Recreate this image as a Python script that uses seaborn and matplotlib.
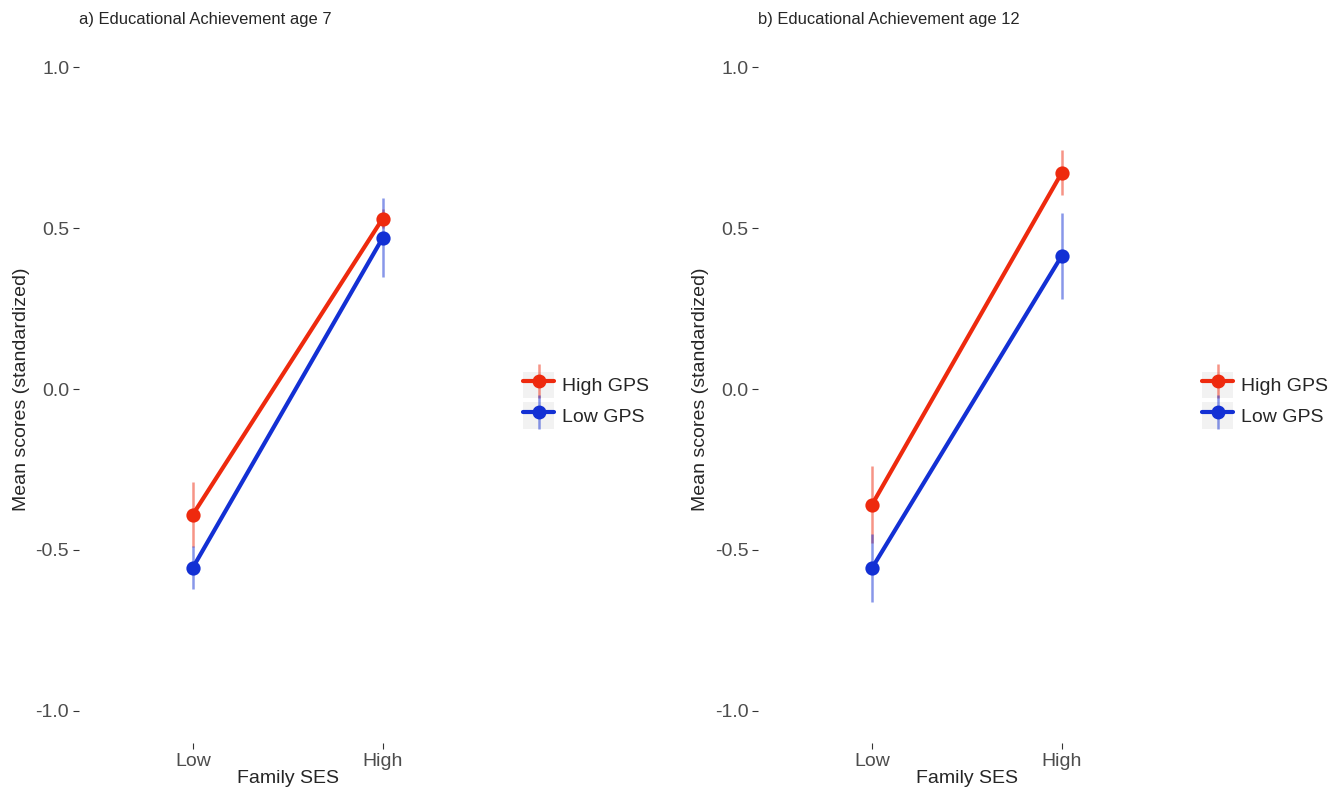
import matplotlib.pyplot as plt
import seaborn as sns
import pandas as pd
from matplotlib.lines import Line2D
from matplotlib.patches import Patch
from matplotlib.legend_handler import HandlerTuple

sns.set_style("white")
plt.rcParams["font.family"] = ["Liberation Sans", "DejaVu Sans"]

ses = ["Low", "High"]
groups = ["High GPS", "Low GPS"]
colors = {"High GPS": "#ee2a0e", "Low GPS": "#1330d4"}

# age 7
age7_high = [-0.39, 0.53]
age7_high_err = [0.10, 0.03]
age7_low = [-0.555, 0.47]
age7_low_err = [0.068, 0.123]

# age 12
age12_high = [-0.36, 0.672]
age12_high_err = [0.12, 0.07]
age12_low = [-0.557, 0.414]
age12_low_err = [0.106, 0.134]

titles = ["a) Educational Achievement age 7", "b) Educational Achievement age 12"]
panels = [
    (age7_high, age7_high_err, age7_low, age7_low_err),
    (age12_high, age12_high_err, age12_low, age12_low_err),
]

fig = plt.figure(figsize=(13.43, 7.98), dpi=100)
lefts = [0.0588, 0.5644]

for left, title, (hi, hi_e, lo, lo_e) in zip(lefts, titles, panels):
    ax = fig.add_axes([left, 0.069, 0.311, 0.887])
    df = pd.DataFrame({
        "ses": ses * 2,
        "group": ["High GPS"] * 2 + ["Low GPS"] * 2,
        "mean": hi + lo,
        "err": hi_e + lo_e,
    })
    for g in groups:
        sub = df[df.group == g]
        ax.vlines(range(len(ses)), sub["mean"] - sub["err"], sub["mean"] + sub["err"],
                  color=colors[g], alpha=0.5, lw=1.8, zorder=1)
    sns.pointplot(data=df, x="ses", y="mean", hue="group", order=ses, hue_order=groups,
                  palette=colors, errorbar=None, markers="o",
                  linewidth=3, markersize=8, ax=ax, legend=False)
    ax.set_xlim(-0.6, 1.6)
    ax.set_ylim(-1.1, 1.1)
    ax.set_yticks([-1.0, -0.5, 0.0, 0.5, 1.0])
    ax.set_yticklabels(["-1.0", "-0.5", "0.0", "0.5", "1.0"])
    ax.tick_params(axis="both", length=4, color="#333333", labelcolor="#4d4d4d",
                   labelsize=14, width=0.8, direction="out", left=True, bottom=True, pad=3)
    for s in ax.spines.values():
        s.set_visible(False)
    ax.set_xlabel("Family SES", fontsize=14, labelpad=0)
    ax.set_ylabel("Mean scores (standardized)", fontsize=14, labelpad=4)
    ax.set_title(title, loc="left", fontsize=11.9, pad=8)

    handles = []
    for g in groups:
        handles.append((Patch(facecolor="#f2f2f2", edgecolor="none"),
                        Line2D([], [], color=colors[g], lw=3, marker="o", markersize=9),
                        Line2D([], [], color=colors[g], marker="|", markersize=24,
                               markeredgewidth=1.8, alpha=0.5, linestyle="none")))
    ax.legend(handles, groups, handler_map={tuple: HandlerTuple(ndivide=1, pad=0)},
              loc="center left", bbox_to_anchor=(1.04, 0.484), frameon=False, fontsize=14,
              handlelength=1.6, handleheight=1.75, handletextpad=0.4, labelspacing=0.2,
              borderpad=0)

fig.savefig("out.png", dpi=100)
